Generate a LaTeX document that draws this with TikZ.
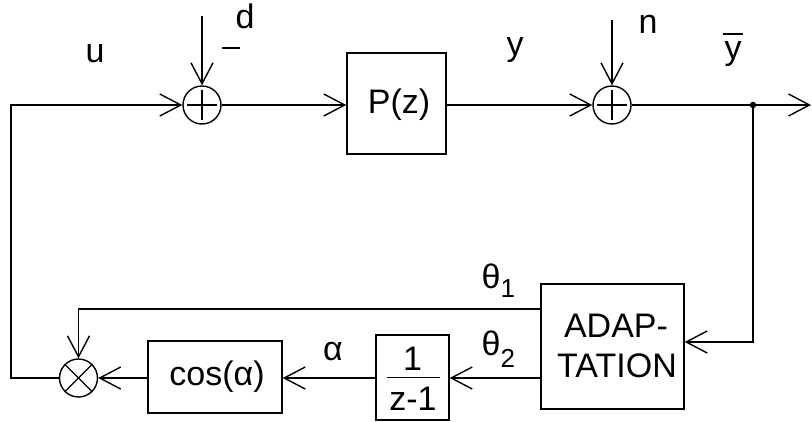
\documentclass[tikz,border=0pt]{standalone}
\usepackage{fontspec}
\setmainfont{Liberation Sans}
\usetikzlibrary{arrows.meta}
\begin{document}
\begin{tikzpicture}[x=1pt,y=-1pt, line width=1.4pt,
  >={Straight Barb[length=21pt,width=22pt]},
  big/.style={font=\fontsize{34}{40}\selectfont},
  blk/.style={draw, rectangle, inner sep=0pt, big},
  sumc/.style={draw, circle, minimum size=38pt, inner sep=0pt},
  lbl/.style={inner sep=0pt, big}]
\useasboundingbox (0,0) rectangle (812,421);
% blocks
\node[sumc] (s1) at (202,105) {};
\draw (s1.center) +(-15,0) -- +(15,0);
\draw (s1.center) +(0,-15) -- +(0,15);
\node[blk, minimum width=99pt, minimum height=101pt] (P) at (396.5,103.5) {};
\node[lbl, anchor=base] (Ptxt) at (399,113) {P(z)};
\node[sumc] (s2) at (612,105) {};
\draw (s2.center) +(-15,0) -- +(15,0);
\draw (s2.center) +(0,-15) -- +(0,15);
\coordinate (j) at (753,105);
\fill (j) circle (3.2pt);
\coordinate (out) at (811,105);
\node[blk, minimum width=143pt, minimum height=125pt, align=center] (A) at (612.5,346.5) {};
\node[lbl, anchor=base] (A1) at (616,337) {ADAP-};
\node[lbl, anchor=base] (A2) at (617,377) {TATION};
\node[blk, minimum width=73pt, minimum height=85pt] (f) at (412.5,377.5) {};
\node[lbl, anchor=base] (f1) at (412.5,370) {1};
\node[lbl, anchor=base] (f2) at (413,410) {z-1};
\draw ([xshift=-26pt]f.center) -- ([xshift=27pt]f.center);
\node[blk, minimum width=134pt, minimum height=72pt] (c) at (215,377) {};
\node[lbl] (ctxt) at (217,377) {cos(α)};
\node[sumc] (m) at (78.5,378) {};
\draw (m.north west) -- (m.south east);
\draw (m.north east) -- (m.south west);
% inputs
\coordinate (d0) at (202,16);
\coordinate (n0) at (612,20);
\coordinate (lc) at (11,0);
% connectors
\draw[->] (d0) -- (s1.north);
\draw[->] (n0) -- (s2.north);
\draw[->] (s1.east) -- (s1 -| P.west);
\draw[->] (s1 -| P.east) -- (s2.west);
\draw (s2.east) -- (j);
\draw[->] (j) -- (out);
\draw[->] (j) |- (A.east |- 0,342);
\draw[->] (A.west |- 0,309) -| (m.north);
\draw[->] (A.west |- 0,378) -- (f.east |- 0,378);
\draw[->] (f.west |- 0,378) -- (c.east |- 0,378);
\draw[->] (c.west |- m) -- (m.east);
\draw[->] (m.west) -| (lc |- s1) -- (s1.west);
% labels
\node[lbl, anchor=base] (u) at (95,62) {u};
\node[lbl, anchor=base] (d) at (245,28) {d};
\draw (222,48) -- (240,48);
\node[lbl, anchor=base] (y) at (515,55) {y};
\node[lbl, anchor=base] (n) at (648,33) {n};
\node[lbl, anchor=base] (yb) at (733,59) {y};
\draw (723,34) -- (743,34);
\node[lbl, anchor=base west] (t1) at (481,288) {θ\raisebox{-9pt}{\fontsize{26}{26}\selectfont 1}};
\node[lbl, anchor=base west] (t2) at (481,355) {θ\raisebox{-12pt}{\fontsize{26}{26}\selectfont 2}};
\node[lbl, anchor=base] (al) at (333,360) {α};
\end{tikzpicture}
\end{document}
